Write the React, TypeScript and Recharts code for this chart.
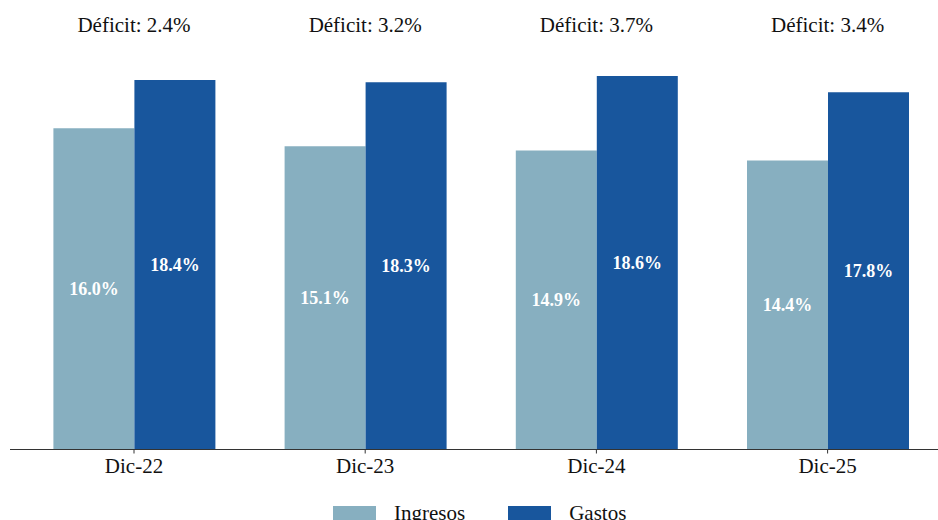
import { Bar, BarChart, LabelList, Legend, XAxis, YAxis } from "recharts";

// Ingresos vs gastos (% del PIB) por cierre de año, con el déficit arriba.
const MESES = ["Dic-22", "Dic-23", "Dic-24", "Dic-25"];
const INGRESOS = [16.0, 15.1, 14.9, 14.4];
const GASTOS = [18.4, 18.3, 18.6, 17.8];
const DEFICIT = [2.4, 3.2, 3.7, 3.4];

const COLOR_INGRESOS = "#87afc0";
const COLOR_GASTOS = "#18569d";
const FONT = '"Liberation Serif", "Times New Roman", serif';

const data = MESES.map((mes, i) => ({
  mes,
  ingresos: INGRESOS[i],
  gastos: GASTOS[i],
}));

const pct = (v: number) => `${v.toFixed(1)}%`;

const VALUE_STYLE = { fill: "#fff", fontSize: 18, fontWeight: 700, fontFamily: FONT };

function LegendBox() {
  const items = [
    { name: "Ingresos", color: COLOR_INGRESOS },
    { name: "Gastos", color: COLOR_GASTOS },
  ];
  return (
    <div style={{ display: "flex", alignItems: "center", fontFamily: FONT, fontSize: 21 }}>
      {items.map((it) => (
        <div key={it.name} style={{ display: "flex", alignItems: "center", marginRight: 43 }}>
          <span style={{ width: 43, height: 16, background: it.color, marginRight: 18 }} />
          <span style={{ color: "#111" }}>{it.name}</span>
        </div>
      ))}
    </div>
  );
}

export default function App() {
  return (
    <div
      style={{
        position: "absolute",
        left: 0,
        top: 0,
        width: 938,
        height: 520,
        overflow: "hidden",
        background: "#fff",
      }}
    >
      <BarChart
        width={950}
        height={520}
        data={data}
        margin={{ top: 18, right: 0, bottom: 30.5, left: 10 }}
        barGap={0}
        barSize={81}
      >
        <XAxis
          dataKey="mes"
          height={40}
          padding={{ left: 8.4, right: 6.8 }}
          axisLine={{ stroke: "#333" }}
          tickLine={{ stroke: "#333" }}
          tickSize={4}
          tickMargin={5}
          tick={{ fill: "#111", fontSize: 21, fontFamily: FONT }}
          interval={0}
        />
        <XAxis
          xAxisId="top"
          orientation="top"
          dataKey="mes"
          height={30}
          padding={{ left: 8.4, right: 6.8 }}
          axisLine={false}
          tickLine={false}
          tickSize={0}
          tickMargin={16}
          tickFormatter={(_: string, i: number) => `Déficit: ${pct(DEFICIT[i])}`}
          tick={{ fill: "#111", fontSize: 21, fontFamily: FONT }}
          interval={0}
        />
        <YAxis hide domain={[0, 20]} />
        <Legend
          verticalAlign="middle"
          align="center"
          content={() => <LegendBox />}
          wrapperStyle={{ left: 333, top: 501, width: 400, height: 20 }}
        />
        <Bar dataKey="ingresos" name="Ingresos" fill={COLOR_INGRESOS} isAnimationActive={false}>
          <LabelList dataKey="ingresos" position="center" formatter={pct} style={VALUE_STYLE} />
        </Bar>
        <Bar dataKey="gastos" name="Gastos" fill={COLOR_GASTOS} isAnimationActive={false}>
          <LabelList dataKey="gastos" position="center" formatter={pct} style={VALUE_STYLE} />
        </Bar>
      </BarChart>
    </div>
  );
}
